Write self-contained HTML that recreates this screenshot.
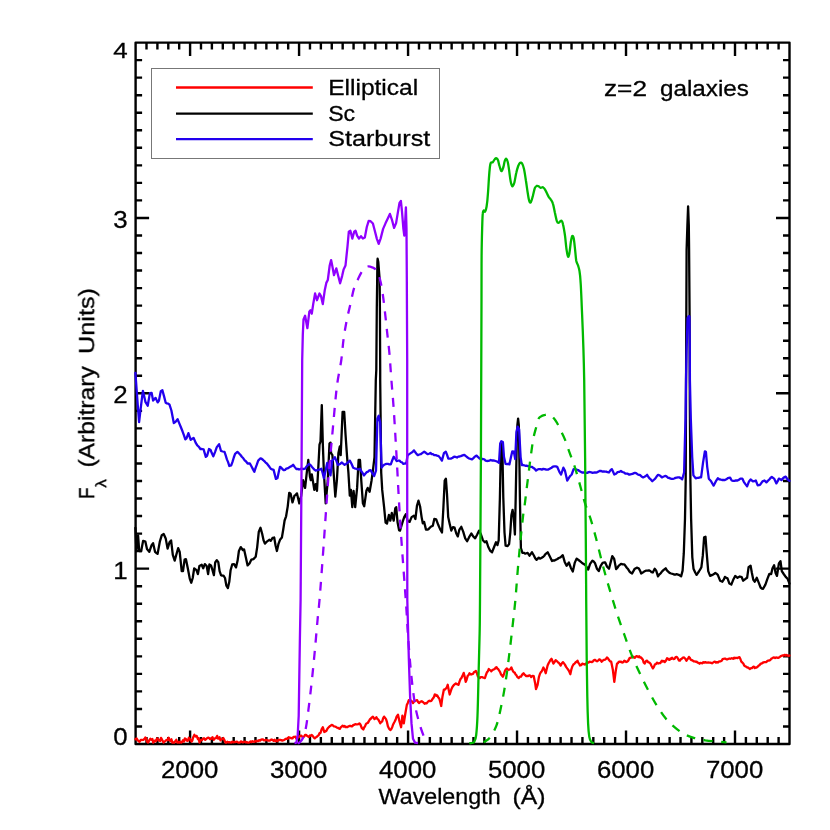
<!DOCTYPE html>
<html><head><meta charset="utf-8"><title>z=2 galaxies</title>
<style>
html,body{margin:0;padding:0;background:#fff;}
svg{display:block;}
text{font-family:"Liberation Sans",sans-serif;fill:#000;stroke:#000;stroke-width:0.3px;}
</style></head><body>
<svg width="830" height="830" viewBox="0 0 830 830">
<rect width="830" height="830" fill="#fff"/>
<!-- axes -->
<rect x="135.6" y="42.6" width="653.9" height="701.4" fill="none" stroke="#000" stroke-width="2.4" stroke-linejoin="round"/>
<path d="M146.50,744.0 v-7.0 M146.50,42.6 v7.0 M157.40,744.0 v-7.0 M157.40,42.6 v7.0 M168.29,744.0 v-7.0 M168.29,42.6 v7.0 M179.19,744.0 v-7.0 M179.19,42.6 v7.0 M190.09,744.0 v-13.5 M190.09,42.6 v13.5 M200.99,744.0 v-7.0 M200.99,42.6 v7.0 M211.89,744.0 v-7.0 M211.89,42.6 v7.0 M222.79,744.0 v-7.0 M222.79,42.6 v7.0 M233.69,744.0 v-7.0 M233.69,42.6 v7.0 M244.58,744.0 v-7.0 M244.58,42.6 v7.0 M255.48,744.0 v-7.0 M255.48,42.6 v7.0 M266.38,744.0 v-7.0 M266.38,42.6 v7.0 M277.28,744.0 v-7.0 M277.28,42.6 v7.0 M288.18,744.0 v-7.0 M288.18,42.6 v7.0 M299.07,744.0 v-13.5 M299.07,42.6 v13.5 M309.97,744.0 v-7.0 M309.97,42.6 v7.0 M320.87,744.0 v-7.0 M320.87,42.6 v7.0 M331.77,744.0 v-7.0 M331.77,42.6 v7.0 M342.67,744.0 v-7.0 M342.67,42.6 v7.0 M353.57,744.0 v-7.0 M353.57,42.6 v7.0 M364.46,744.0 v-7.0 M364.46,42.6 v7.0 M375.36,744.0 v-7.0 M375.36,42.6 v7.0 M386.26,744.0 v-7.0 M386.26,42.6 v7.0 M397.16,744.0 v-7.0 M397.16,42.6 v7.0 M408.06,744.0 v-13.5 M408.06,42.6 v13.5 M418.96,744.0 v-7.0 M418.96,42.6 v7.0 M429.86,744.0 v-7.0 M429.86,42.6 v7.0 M440.75,744.0 v-7.0 M440.75,42.6 v7.0 M451.65,744.0 v-7.0 M451.65,42.6 v7.0 M462.55,744.0 v-7.0 M462.55,42.6 v7.0 M473.45,744.0 v-7.0 M473.45,42.6 v7.0 M484.35,744.0 v-7.0 M484.35,42.6 v7.0 M495.25,744.0 v-7.0 M495.25,42.6 v7.0 M506.14,744.0 v-7.0 M506.14,42.6 v7.0 M517.04,744.0 v-13.5 M517.04,42.6 v13.5 M527.94,744.0 v-7.0 M527.94,42.6 v7.0 M538.84,744.0 v-7.0 M538.84,42.6 v7.0 M549.74,744.0 v-7.0 M549.74,42.6 v7.0 M560.63,744.0 v-7.0 M560.63,42.6 v7.0 M571.53,744.0 v-7.0 M571.53,42.6 v7.0 M582.43,744.0 v-7.0 M582.43,42.6 v7.0 M593.33,744.0 v-7.0 M593.33,42.6 v7.0 M604.23,744.0 v-7.0 M604.23,42.6 v7.0 M615.13,744.0 v-7.0 M615.13,42.6 v7.0 M626.02,744.0 v-13.5 M626.02,42.6 v13.5 M636.92,744.0 v-7.0 M636.92,42.6 v7.0 M647.82,744.0 v-7.0 M647.82,42.6 v7.0 M658.72,744.0 v-7.0 M658.72,42.6 v7.0 M669.62,744.0 v-7.0 M669.62,42.6 v7.0 M680.52,744.0 v-7.0 M680.52,42.6 v7.0 M691.41,744.0 v-7.0 M691.41,42.6 v7.0 M702.31,744.0 v-7.0 M702.31,42.6 v7.0 M713.21,744.0 v-7.0 M713.21,42.6 v7.0 M724.11,744.0 v-7.0 M724.11,42.6 v7.0 M735.01,744.0 v-13.5 M735.01,42.6 v13.5 M745.91,744.0 v-7.0 M745.91,42.6 v7.0 M756.80,744.0 v-7.0 M756.80,42.6 v7.0 M767.70,744.0 v-7.0 M767.70,42.6 v7.0 M778.60,744.0 v-7.0 M778.60,42.6 v7.0 M135.6,726.47 h6.5 M789.5,726.47 h-6.5 M135.6,708.93 h6.5 M789.5,708.93 h-6.5 M135.6,691.39 h6.5 M789.5,691.39 h-6.5 M135.6,673.86 h6.5 M789.5,673.86 h-6.5 M135.6,656.33 h6.5 M789.5,656.33 h-6.5 M135.6,638.79 h6.5 M789.5,638.79 h-6.5 M135.6,621.25 h6.5 M789.5,621.25 h-6.5 M135.6,603.72 h6.5 M789.5,603.72 h-6.5 M135.6,586.18 h6.5 M789.5,586.18 h-6.5 M135.6,568.65 h13.5 M789.5,568.65 h-13.5 M135.6,551.12 h6.5 M789.5,551.12 h-6.5 M135.6,533.58 h6.5 M789.5,533.58 h-6.5 M135.6,516.04 h6.5 M789.5,516.04 h-6.5 M135.6,498.51 h6.5 M789.5,498.51 h-6.5 M135.6,480.98 h6.5 M789.5,480.98 h-6.5 M135.6,463.44 h6.5 M789.5,463.44 h-6.5 M135.6,445.91 h6.5 M789.5,445.91 h-6.5 M135.6,428.37 h6.5 M789.5,428.37 h-6.5 M135.6,410.84 h6.5 M789.5,410.84 h-6.5 M135.6,393.30 h13.5 M789.5,393.30 h-13.5 M135.6,375.76 h6.5 M789.5,375.76 h-6.5 M135.6,358.23 h6.5 M789.5,358.23 h-6.5 M135.6,340.70 h6.5 M789.5,340.70 h-6.5 M135.6,323.16 h6.5 M789.5,323.16 h-6.5 M135.6,305.62 h6.5 M789.5,305.62 h-6.5 M135.6,288.09 h6.5 M789.5,288.09 h-6.5 M135.6,270.56 h6.5 M789.5,270.56 h-6.5 M135.6,253.02 h6.5 M789.5,253.02 h-6.5 M135.6,235.49 h6.5 M789.5,235.49 h-6.5 M135.6,217.95 h13.5 M789.5,217.95 h-13.5 M135.6,200.41 h6.5 M789.5,200.41 h-6.5 M135.6,182.88 h6.5 M789.5,182.88 h-6.5 M135.6,165.35 h6.5 M789.5,165.35 h-6.5 M135.6,147.81 h6.5 M789.5,147.81 h-6.5 M135.6,130.27 h6.5 M789.5,130.27 h-6.5 M135.6,112.74 h6.5 M789.5,112.74 h-6.5 M135.6,95.21 h6.5 M789.5,95.21 h-6.5 M135.6,77.67 h6.5 M789.5,77.67 h-6.5 M135.6,60.13 h6.5 M789.5,60.13 h-6.5" fill="none" stroke="#000" stroke-width="2.4"/>
<!-- legend -->
<rect x="151.5" y="68.5" width="288" height="90" fill="#fff" stroke="#777" stroke-width="1"/>
<path d="M176,87.5 H312.8" stroke="#f00" stroke-width="2.3"/>
<path d="M176,113.6 H312.8" stroke="#000" stroke-width="2.3"/>
<path d="M176,139.2 H312.8" stroke="#2200ee" stroke-width="2.3"/>
<g fill="none" stroke-width="2.3" stroke-linejoin="round" stroke-linecap="round">
<path stroke="#f00" d="M135.4,739.2 L136.6,738.4 L137.7,740.3 L138.7,741.2 L139.6,741.7 L140.8,740.0 L141.9,739.8 L142.8,740.0 L143.6,739.8 L144.5,738.8 L145.3,737.5 L146.1,738.2 L147.0,741.7 L148.1,742.6 L149.3,740.3 L150.4,738.8 L151.6,739.8 L152.4,739.0 L153.3,742.6 L154.1,741.7 L155.1,740.4 L156.0,741.3 L157.0,738.4 L158.1,739.4 L159.3,740.7 L160.1,740.9 L161.0,737.9 L161.8,739.2 L162.6,740.7 L163.5,742.6 L164.3,741.7 L165.5,740.8 L166.6,739.8 L167.6,740.0 L168.6,737.8 L169.5,740.4 L170.5,741.1 L171.4,739.2 L172.4,742.6 L173.4,742.3 L174.3,742.6 L175.3,741.2 L176.3,739.8 L177.2,742.3 L178.0,742.6 L178.9,741.8 L179.7,742.6 L180.5,741.7 L181.3,742.6 L182.2,741.9 L183.0,740.3 L184.0,741.6 L184.9,738.4 L185.9,739.0 L186.9,740.7 L187.8,740.8 L188.8,737.8 L189.8,738.8 L190.7,740.3 L191.6,741.6 L192.4,740.3 L193.2,737.2 L194.4,734.8 L195.5,736.5 L196.7,735.9 L197.9,739.2 L198.7,738.2 L199.5,742.6 L200.4,740.7 L201.2,739.7 L202.0,740.1 L202.9,738.8 L204.0,738.2 L205.2,739.8 L206.3,738.8 L207.5,737.8 L208.3,737.7 L209.2,738.0 L210.0,739.2 L210.8,739.0 L211.7,738.3 L212.5,737.2 L213.7,739.9 L214.8,738.4 L216.0,738.1 L217.1,735.9 L218.0,738.6 L218.8,738.7 L219.6,737.2 L220.5,740.4 L221.3,739.4 L222.1,739.2 L223.3,738.0 L224.5,740.3 L225.4,742.6 L226.4,742.6 L227.3,741.7 L228.3,742.4 L229.3,742.2 L230.2,742.3 L231.2,742.5 L232.2,741.7 L233.1,742.4 L234.1,741.9 L235.1,742.1 L236.0,741.8 L237.0,741.6 L237.9,742.3 L238.9,742.6 L239.9,742.6 L240.8,741.4 L241.8,741.9 L242.8,742.4 L243.7,741.9 L244.7,741.7 L245.7,742.3 L246.6,742.0 L247.6,742.6 L248.6,742.6 L249.5,742.3 L250.5,741.5 L251.4,742.1 L252.4,741.2 L253.4,741.7 L254.3,741.8 L255.3,741.0 L256.3,741.5 L257.2,740.7 L258.2,741.1 L259.2,740.2 L260.1,740.6 L261.1,739.6 L262.0,739.5 L263.0,739.4 L264.0,740.3 L264.9,740.3 L265.9,739.8 L266.9,740.1 L267.8,740.5 L268.8,740.7 L269.8,740.7 L270.7,739.9 L271.7,739.5 L272.6,740.0 L273.6,740.9 L274.6,739.7 L275.5,741.3 L276.5,740.3 L277.5,741.2 L278.4,739.9 L279.4,740.0 L280.4,740.0 L281.2,740.1 L282.0,740.6 L282.9,740.3 L283.9,740.1 L284.8,739.5 L285.8,738.8 L286.7,738.6 L287.7,738.8 L288.7,737.2 L289.6,737.7 L290.6,737.9 L291.6,738.4 L292.5,738.4 L293.5,736.8 L294.5,736.9 L295.4,736.7 L296.4,738.7 L297.4,737.8 L298.3,737.2 L299.3,736.7 L300.2,735.9 L301.2,735.6 L302.2,736.7 L303.1,737.2 L304.1,736.6 L305.1,734.9 L306.0,734.9 L307.0,735.8 L308.0,736.4 L308.9,736.9 L309.9,735.5 L310.8,735.8 L311.8,734.9 L312.8,736.0 L313.7,737.5 L314.7,738.4 L315.7,737.3 L316.6,737.1 L317.6,735.9 L318.6,735.3 L319.5,733.2 L320.5,733.0 L321.6,729.4 L322.8,727.2 L324.3,732.0 L325.3,731.4 L326.3,730.9 L327.2,729.2 L328.1,727.8 L328.9,727.2 L329.7,726.3 L330.7,725.7 L331.7,724.9 L332.8,725.3 L334.0,726.3 L334.9,726.5 L335.9,726.9 L336.9,727.6 L337.8,727.8 L338.8,728.5 L339.8,728.8 L340.7,727.4 L341.7,726.5 L342.6,725.7 L343.6,726.6 L344.6,726.0 L345.5,727.2 L346.5,727.0 L347.5,727.0 L348.4,726.3 L349.4,726.0 L350.4,725.8 L351.3,726.3 L352.3,726.3 L353.3,725.0 L354.2,724.9 L355.2,724.2 L356.1,724.4 L357.1,724.3 L358.3,724.2 L359.4,723.4 L360.3,724.3 L361.1,726.3 L361.9,728.2 L363.3,729.5 L364.1,727.5 L364.9,726.6 L365.8,724.3 L366.7,723.3 L367.7,723.0 L368.7,721.5 L369.8,719.5 L371.0,718.5 L372.0,717.3 L372.9,716.6 L374.5,719.1 L375.4,718.4 L376.4,717.2 L377.4,719.0 L378.3,719.5 L379.3,721.4 L380.2,723.4 L381.2,722.0 L382.2,721.5 L383.1,718.4 L384.1,716.6 L385.1,717.9 L386.0,719.1 L387.0,722.2 L387.9,726.3 L389.1,728.7 L390.3,730.1 L391.2,729.2 L392.2,727.2 L393.0,724.8 L393.9,723.0 L394.7,721.5 L395.7,719.5 L396.6,716.6 L398.0,714.7 L399.5,721.5 L401.1,727.2 L402.4,715.7 L403.8,723.4 L405.3,713.7 L406.8,705.1 L407.8,702.9 L408.8,700.2 L409.9,700.9 L411.1,700.6 L412.0,701.6 L413.0,703.1 L414.0,701.6 L414.9,701.2 L416.1,700.4 L417.2,700.2 L418.2,702.2 L419.2,703.1 L420.0,702.1 L420.9,701.6 L421.7,701.2 L422.7,701.9 L423.6,702.7 L424.6,703.7 L425.5,703.1 L426.5,703.4 L427.5,702.2 L428.4,701.3 L429.4,700.7 L430.4,701.2 L431.3,700.9 L432.3,699.3 L433.1,698.3 L434.0,696.8 L434.8,694.5 L435.7,694.7 L436.5,695.8 L437.3,695.4 L438.3,697.5 L439.2,698.3 L440.2,701.7 L441.2,706.0 L442.5,696.4 L443.9,689.6 L444.8,689.5 L445.8,688.7 L446.8,687.3 L447.7,684.8 L448.7,689.9 L449.7,694.5 L450.6,691.6 L451.6,688.7 L452.4,687.0 L453.3,685.8 L454.1,684.8 L454.9,684.1 L455.8,683.5 L456.6,683.9 L457.6,684.5 L458.5,684.8 L459.5,681.6 L460.5,679.0 L461.4,678.1 L462.4,676.1 L463.7,672.9 L464.7,676.7 L465.7,681.9 L466.6,679.7 L467.6,676.1 L468.6,675.0 L469.5,673.2 L470.4,674.3 L471.2,674.5 L472.0,674.2 L473.0,673.9 L473.9,672.3 L474.9,671.7 L475.9,670.9 L476.8,672.8 L477.8,676.1 L478.8,677.5 L479.7,678.1 L480.6,677.2 L481.5,677.1 L482.4,677.1 L483.3,677.7 L484.1,677.8 L484.9,678.1 L485.9,675.0 L486.9,672.3 L487.8,671.4 L488.8,669.0 L489.6,670.0 L490.5,670.3 L491.3,671.3 L492.5,670.0 L493.6,669.4 L494.6,669.2 L495.5,667.8 L496.5,667.1 L497.3,668.6 L498.2,669.0 L499.0,670.4 L500.0,671.8 L500.9,674.2 L501.9,675.5 L502.9,676.7 L503.8,674.5 L504.8,671.3 L505.8,669.4 L506.7,668.4 L507.9,669.6 L509.0,669.8 L510.2,669.3 L511.4,667.5 L512.2,669.6 L513.0,671.2 L513.9,672.3 L514.7,672.5 L515.5,674.4 L516.4,675.2 L517.5,677.2 L518.7,678.1 L519.8,676.7 L521.0,676.7 L521.8,675.2 L522.7,674.0 L523.5,673.2 L524.3,674.3 L525.2,675.1 L526.0,676.1 L526.9,675.9 L527.8,676.2 L528.7,675.6 L529.5,675.3 L530.4,675.9 L531.2,677.1 L532.0,676.2 L532.9,675.9 L533.7,676.1 L535.1,682.9 L536.0,689.1 L537.6,684.8 L538.9,677.1 L539.9,674.0 L540.8,672.3 L541.7,671.4 L542.5,669.6 L543.4,667.5 L544.5,669.7 L545.7,673.2 L546.6,669.4 L547.6,665.5 L548.6,663.3 L549.5,661.7 L550.5,659.9 L551.5,658.8 L552.4,661.0 L553.4,663.6 L554.5,662.1 L555.7,660.1 L556.5,661.1 L557.4,661.6 L558.2,662.6 L559.0,663.1 L559.9,664.3 L560.7,665.5 L561.9,663.2 L563.0,662.1 L564.0,663.4 L564.9,664.6 L566.1,666.9 L567.2,668.4 L568.2,669.7 L569.2,671.3 L570.3,674.2 L571.3,669.7 L572.3,666.5 L573.4,664.5 L574.6,663.6 L575.5,662.4 L576.5,661.9 L577.5,660.7 L578.3,662.8 L579.2,663.7 L580.0,665.5 L581.2,665.1 L582.3,663.6 L583.1,664.1 L584.0,664.1 L584.8,664.6 L585.7,663.7 L586.5,663.3 L587.3,662.6 L588.5,662.5 L589.6,661.7 L590.8,661.8 L592.0,662.1 L592.8,661.6 L593.6,660.5 L594.5,659.8 L595.3,659.9 L596.1,660.8 L597.0,661.3 L598.1,660.6 L599.3,659.4 L600.4,659.8 L601.6,661.7 L602.4,660.9 L603.3,660.3 L604.1,659.8 L605.1,659.6 L606.0,658.9 L607.0,657.5 L608.0,658.4 L608.9,659.8 L610.1,661.4 L611.2,661.7 L612.8,669.4 L614.3,681.9 L615.7,671.3 L617.0,663.6 L617.8,663.4 L618.7,661.9 L619.5,661.7 L620.4,662.0 L621.2,661.7 L622.0,662.6 L623.2,662.2 L624.3,660.7 L625.3,661.3 L626.3,662.0 L627.2,661.7 L628.1,660.9 L628.9,659.4 L629.7,657.8 L630.6,657.9 L631.5,657.3 L632.4,656.9 L633.3,656.6 L634.1,657.7 L634.9,657.8 L635.8,656.5 L636.6,656.2 L637.5,656.3 L638.3,657.1 L639.2,656.3 L640.1,657.5 L641.1,657.5 L642.1,658.8 L642.9,659.8 L643.7,662.6 L644.6,663.6 L645.4,662.1 L646.2,660.9 L647.1,660.7 L648.2,662.2 L649.4,662.6 L650.4,663.5 L651.3,665.5 L652.9,668.4 L653.8,667.1 L654.8,664.6 L656.0,663.9 L657.1,662.6 L658.3,663.5 L659.4,663.2 L660.3,663.1 L661.1,661.7 L661.9,660.7 L662.9,661.6 L663.9,660.9 L664.8,662.1 L666.0,660.6 L667.1,658.2 L668.0,658.8 L668.8,659.6 L669.6,659.8 L670.5,658.5 L671.3,658.9 L672.1,657.8 L673.3,659.0 L674.5,658.8 L675.6,657.1 L676.8,656.9 L677.6,657.9 L678.4,659.5 L679.3,660.7 L680.1,660.6 L680.9,659.0 L681.8,658.8 L682.9,657.6 L684.1,657.5 L685.3,658.7 L686.4,660.7 L687.2,659.6 L688.1,658.6 L688.9,656.9 L689.9,658.1 L690.8,659.8 L691.8,660.1 L692.8,660.6 L693.7,661.3 L694.7,661.4 L695.7,661.8 L696.6,661.6 L697.6,662.6 L698.6,662.8 L699.5,663.7 L700.5,662.9 L701.5,663.2 L702.4,663.3 L703.4,662.1 L704.3,662.7 L705.3,662.1 L706.3,662.6 L707.2,662.6 L708.2,662.5 L709.2,662.6 L710.1,662.6 L711.1,662.9 L712.0,663.3 L713.0,662.6 L714.0,661.9 L714.9,661.7 L715.9,662.6 L716.9,662.1 L717.8,662.5 L718.8,661.7 L719.8,661.4 L720.7,661.3 L721.7,660.8 L722.6,659.1 L723.6,658.8 L724.6,658.6 L725.5,658.7 L726.5,659.4 L727.5,659.4 L728.4,658.8 L729.4,658.5 L730.4,658.8 L731.7,658.2 L732.5,658.5 L733.3,658.8 L734.1,657.7 L734.9,658.3 L735.7,657.8 L736.5,657.8 L737.5,658.1 L738.4,657.5 L739.4,657.1 L740.4,659.0 L741.3,661.7 L742.3,662.5 L743.3,663.5 L744.2,665.5 L745.2,666.2 L746.1,666.6 L747.1,667.5 L748.1,667.5 L749.0,668.3 L750.0,669.0 L751.0,668.1 L751.9,668.2 L752.9,667.1 L753.9,666.6 L754.8,668.1 L755.8,667.3 L756.8,667.5 L757.7,666.7 L758.7,665.5 L759.6,665.1 L760.6,663.6 L761.6,663.7 L762.5,662.9 L763.5,662.4 L764.5,662.1 L765.4,662.1 L766.4,662.0 L767.3,660.9 L768.3,660.7 L769.3,660.5 L770.2,660.2 L771.2,658.8 L772.2,658.2 L773.1,657.6 L774.1,657.4 L775.1,658.0 L776.0,657.5 L777.0,657.6 L778.0,657.9 L778.9,657.6 L779.9,656.9 L780.8,656.1 L781.8,655.7 L782.8,655.5 L783.7,655.5 L784.7,654.8 L785.7,655.5 L786.6,654.9 L787.6,655.7 L788.6,656.0 L789.5,655.5"/>
<path stroke="#000" d="M135.4,527.8 L136.4,551.0 L138.1,535.5 L139.2,551.0 L141.2,551.0 L143.1,540.9 L145.4,541.7 L147.0,549.0 L149.3,551.9 L151.6,545.2 L153.1,543.2 L155.1,551.9 L156.3,553.0 L157.6,553.9 L159.9,541.3 L161.8,535.2 L163.7,534.0 L165.7,538.4 L167.6,548.6 L169.5,542.3 L171.1,540.4 L172.8,554.8 L174.7,560.6 L176.3,554.8 L178.2,548.1 L179.7,551.9 L181.7,571.2 L183.0,571.2 L184.6,559.6 L185.9,559.1 L187.8,568.3 L189.8,578.9 L191.3,582.8 L192.7,578.0 L194.2,568.3 L196.5,570.2 L197.9,574.1 L199.4,566.0 L201.7,564.8 L203.2,568.3 L204.8,564.1 L206.7,566.0 L208.1,574.1 L209.4,564.5 L211.0,565.4 L212.5,570.2 L213.9,575.1 L215.2,562.5 L216.8,560.2 L218.3,562.1 L219.6,571.2 L221.0,575.1 L222.2,575.6 L223.5,575.6 L225.0,578.0 L226.4,585.7 L227.9,588.0 L229.3,581.8 L230.6,570.2 L232.2,564.5 L234.1,564.1 L236.0,567.4 L237.6,560.6 L238.9,551.0 L240.8,547.1 L242.8,550.0 L244.1,549.4 L245.7,556.8 L247.6,565.4 L249.5,563.5 L251.4,559.6 L253.4,559.1 L255.7,556.8 L257.2,547.1 L258.8,531.7 L260.5,527.8 L262.1,533.6 L263.6,540.4 L264.9,543.6 L267.2,541.3 L269.2,539.8 L270.7,540.9 L272.6,537.9 L274.2,537.5 L275.5,545.2 L276.9,551.0 L278.4,544.2 L280.0,539.8 L281.9,537.5 L283.2,529.8 L284.6,520.5 L286.1,516.3 L287.7,506.6 L289.2,492.8 L290.6,493.7 L292.5,502.4 L294.5,495.7 L295.7,494.8 L297.0,493.4 L299.3,503.4 L301.2,495.7 L303.1,480.2 L305.1,487.9 L307.0,470.6 L308.3,460.0 L309.9,476.4 L310.8,480.2 L311.8,474.5 L313.1,482.2 L314.3,489.9 L315.7,484.1 L317.0,490.8 L318.3,467.7 L319.5,444.6 L320.5,441.7 L321.8,405.1 L322.8,443.6 L323.9,472.5 L325.7,503.4 L327.8,480.2 L329.5,443.6 L330.5,442.6 L331.1,453.2 L332.4,455.2 L333.6,472.5 L335.3,496.6 L336.9,480.2 L338.4,453.2 L339.8,446.5 L340.7,455.2 L342.6,411.8 L344.2,411.8 L345.5,434.0 L347.1,457.1 L348.4,472.5 L349.8,495.7 L350.9,489.9 L352.3,507.2 L353.6,490.8 L355.2,507.2 L357.1,487.9 L358.6,460.0 L360.0,460.0 L361.4,482.2 L362.9,503.4 L364.2,506.3 L366.4,490.8 L367.7,487.9 L369.6,491.8 L371.6,480.2 L372.9,470.6 L374.5,457.1 L375.8,380.0 L376.3,370.0 L376.8,308.0 L377.2,279.0 L377.4,262.0 L377.6,258.7 L378.3,262.0 L379.6,279.0 L379.9,308.0 L380.2,370.0 L380.2,380.0 L381.2,472.5 L382.2,489.9 L384.1,507.2 L385.6,522.6 L387.0,523.6 L388.9,514.9 L390.3,520.7 L391.8,513.0 L393.7,520.7 L395.3,508.2 L396.2,507.2 L397.6,522.6 L399.1,530.4 L400.0,530.6 L402.3,522.9 L404.2,517.1 L405.8,514.2 L407.7,521.0 L409.6,521.9 L411.6,517.1 L413.9,515.6 L415.4,519.0 L417.0,505.5 L418.5,500.7 L420.1,506.5 L421.6,517.1 L422.8,523.3 L424.1,521.9 L426.0,529.6 L427.3,529.7 L428.5,529.1 L430.8,526.8 L432.8,525.8 L434.3,519.0 L436.2,519.4 L438.2,524.8 L440.1,529.1 L442.0,532.5 L443.4,507.5 L444.7,480.5 L445.9,478.6 L447.0,494.0 L448.2,517.1 L449.7,523.9 L451.3,530.6 L453.0,527.1 L454.6,527.7 L456.3,533.5 L457.8,536.4 L459.4,529.6 L461.3,526.8 L463.2,531.6 L465.2,538.3 L467.1,541.2 L469.0,537.4 L471.3,533.5 L473.2,536.4 L475.2,538.3 L477.1,534.8 L479.0,530.6 L481.0,534.5 L482.9,540.2 L484.8,542.2 L486.4,541.2 L488.3,547.0 L490.2,550.8 L492.1,552.2 L494.1,547.0 L496.0,542.2 L497.4,545.1 L498.7,540.2 L499.9,497.8 L500.8,451.6 L501.6,442.9 L502.4,451.6 L503.3,497.8 L504.5,532.5 L505.6,545.6 L507.6,546.0 L509.1,544.1 L510.3,532.5 L511.4,515.2 L512.6,509.8 L513.7,517.1 L514.9,534.5 L515.7,497.8 L516.8,440.0 L517.4,425.0 L518.1,418.6 L518.8,425.0 L519.1,440.0 L519.9,497.8 L520.9,548.0 L522.4,552.8 L523.9,552.8 L525.3,553.7 L527.6,552.8 L529.5,555.7 L530.8,553.9 L532.0,552.2 L534.0,555.7 L535.2,558.2 L536.5,559.9 L538.8,557.6 L540.0,558.6 L541.4,558.0 L542.9,557.1 L544.1,556.0 L545.4,554.2 L547.7,552.3 L549.6,556.1 L552.0,561.0 L553.2,560.4 L554.5,560.6 L555.9,559.8 L557.4,559.0 L558.8,558.0 L560.2,557.5 L561.5,556.4 L562.8,555.2 L564.7,561.9 L566.6,565.8 L568.9,562.5 L570.8,567.7 L572.8,571.6 L574.7,562.9 L576.6,558.6 L578.5,560.0 L580.9,561.9 L582.1,563.0 L583.4,563.9 L584.6,564.4 L585.9,565.8 L588.2,569.6 L590.1,563.9 L592.4,560.6 L593.7,561.5 L594.9,562.9 L596.9,568.7 L598.8,571.0 L600.7,565.8 L602.6,562.9 L603.9,562.5 L605.2,562.5 L607.1,566.8 L609.0,568.7 L610.5,562.9 L612.3,556.1 L614.2,559.0 L616.1,569.1 L617.4,567.8 L618.6,565.8 L621.0,563.9 L622.7,564.4 L624.4,564.4 L626.8,567.7 L628.2,569.3 L629.6,571.6 L630.9,572.8 L632.1,573.5 L634.5,569.1 L636.8,567.7 L638.7,568.3 L640.0,570.6 L641.2,573.5 L642.7,572.6 L644.1,571.6 L645.8,570.7 L647.6,570.6 L648.9,570.3 L650.3,571.0 L651.5,572.1 L652.8,572.5 L654.7,568.7 L656.2,570.6 L658.0,576.4 L659.2,574.7 L660.5,573.5 L661.9,571.6 L663.4,570.2 L665.7,568.3 L666.9,570.4 L668.2,571.6 L669.6,572.9 L671.1,573.5 L672.5,573.8 L674.0,574.5 L675.2,574.7 L676.5,574.1 L678.8,574.8 L681.1,576.4 L682.6,570.6 L683.8,553.2 L685.0,518.5 L685.7,480.0 L686.0,400.0 L686.3,316.0 L686.6,250.0 L687.4,225.0 L688.1,206.4 L688.8,225.0 L689.1,250.0 L689.6,316.0 L689.8,400.0 L690.4,480.0 L691.1,518.5 L692.3,557.1 L693.5,568.7 L695.2,572.5 L696.6,574.9 L698.9,571.5 L700.2,569.4 L701.4,567.2 L702.8,555.7 L704.1,537.4 L705.5,536.8 L706.6,551.8 L708.2,571.1 L710.1,575.9 L712.4,574.9 L713.9,574.1 L715.3,573.0 L716.6,573.7 L717.8,574.9 L720.1,580.7 L722.4,581.7 L723.7,579.7 L724.9,576.9 L726.2,577.8 L727.5,578.4 L729.4,583.6 L731.3,584.6 L733.2,579.8 L735.2,575.9 L737.5,577.8 L739.8,576.5 L741.7,577.2 L743.2,580.7 L745.6,578.8 L747.1,577.8 L748.6,567.2 L750.6,565.7 L751.9,573.0 L753.3,579.8 L754.8,581.7 L756.8,577.8 L758.7,582.6 L760.6,587.5 L761.9,588.6 L763.1,588.8 L765.4,584.6 L767.4,578.8 L769.3,574.0 L771.2,574.0 L772.5,568.2 L774.1,565.3 L775.6,573.0 L777.0,575.9 L778.9,563.4 L780.5,561.1 L781.8,571.1 L783.7,574.0 L785.7,576.9 L787.6,578.8 L789.5,583.6"/>
<path stroke="#2200ee" d="M135.4,372.9 L136.6,389.3 L137.8,405.7 L139.1,422.1 L140.3,411.6 L141.6,401.2 L142.9,390.8 L144.2,396.3 L145.4,401.8 L147.7,405.7 L149.9,393.1 L151.6,392.8 L153.1,400.5 L154.4,399.1 L155.6,397.9 L157.6,402.4 L158.9,400.8 L160.8,391.2 L162.4,390.2 L164.0,396.1 L165.7,402.8 L166.9,403.4 L168.2,403.6 L169.5,404.7 L171.4,410.5 L173.8,423.0 L175.3,422.1 L177.6,419.2 L179.3,423.4 L181.1,427.8 L182.5,431.3 L183.9,435.2 L185.3,439.4 L186.5,438.4 L188.4,433.2 L190.7,439.8 L192.2,438.8 L193.6,437.9 L195.9,443.2 L197.4,445.5 L198.9,446.8 L200.4,449.0 L202.0,449.0 L203.6,449.4 L205.8,456.8 L207.1,455.8 L209.0,449.0 L210.6,450.0 L211.9,453.3 L213.3,456.4 L215.0,452.1 L216.8,447.1 L219.1,444.2 L221.0,451.0 L222.7,451.5 L224.5,451.9 L225.7,455.4 L226.9,459.4 L228.1,462.1 L229.3,466.0 L231.2,465.4 L232.5,461.9 L233.8,457.5 L235.1,453.9 L237.4,451.9 L238.8,453.2 L240.3,454.8 L241.8,456.8 L243.3,458.3 L244.7,460.4 L246.1,461.5 L247.6,463.5 L249.9,463.5 L251.4,466.3 L252.9,469.1 L254.3,471.8 L255.6,467.9 L256.9,464.4 L258.2,460.6 L260.5,458.3 L261.8,458.9 L263.1,460.0 L264.3,461.1 L265.6,462.6 L266.9,463.5 L268.2,465.2 L269.4,466.8 L270.7,468.7 L272.2,469.4 L273.6,469.9 L275.9,478.9 L277.5,477.9 L278.7,472.3 L280.0,466.8 L281.3,467.7 L282.6,469.3 L283.9,470.2 L285.1,469.8 L286.3,468.7 L287.5,468.4 L288.7,467.7 L290.2,466.8 L291.6,466.1 L293.1,464.8 L294.8,467.1 L296.4,469.1 L297.7,468.9 L299.0,469.5 L300.2,469.1 L301.4,468.6 L302.6,468.8 L303.9,469.0 L305.1,468.7 L306.3,466.8 L307.6,465.5 L308.9,463.9 L310.4,464.9 L311.8,466.8 L313.1,468.2 L314.4,469.6 L315.7,470.6 L317.1,470.2 L318.6,469.6 L320.0,469.5 L321.4,468.7 L322.7,473.3 L323.9,478.3 L325.6,470.8 L327.2,462.9 L328.9,469.2 L330.5,475.4 L332.1,461.0 L333.5,459.1 L334.9,457.1 L336.4,460.9 L337.8,464.8 L339.1,464.4 L340.4,463.7 L341.7,462.5 L343.1,463.6 L344.6,464.8 L346.0,464.0 L347.5,462.9 L349.8,460.6 L351.5,463.7 L353.2,467.7 L354.5,468.3 L355.8,468.7 L357.1,469.1 L358.6,469.3 L360.0,468.7 L361.3,471.2 L362.6,473.0 L363.9,475.4 L365.3,473.7 L366.8,472.1 L368.0,471.7 L369.3,470.4 L370.6,470.2 L372.3,473.1 L374.1,476.0 L376.0,470.6 L377.4,418.6 L378.7,415.7 L380.2,422.4 L381.6,467.7 L382.8,466.0 L384.1,464.8 L385.4,464.2 L386.7,463.8 L387.9,463.9 L389.4,464.4 L390.8,464.4 L392.3,460.2 L393.7,456.7 L395.2,458.6 L396.6,461.0 L398.1,460.7 L399.5,460.6 L400.8,462.0 L402.1,462.4 L403.4,463.9 L404.8,463.5 L406.3,463.3 L407.6,455.2 L409.3,454.1 L411.1,452.9 L412.5,452.0 L414.0,450.4 L415.3,452.3 L416.5,453.9 L417.8,455.2 L419.3,454.5 L420.7,454.2 L422.5,452.9 L424.2,451.7 L425.8,452.8 L427.5,454.2 L428.9,453.9 L430.4,452.9 L431.6,454.1 L432.9,454.1 L434.2,455.2 L435.7,455.1 L437.1,455.6 L438.7,456.1 L440.3,458.1 L441.9,460.6 L443.9,453.2 L445.8,451.7 L447.1,454.9 L448.3,458.6 L449.8,458.6 L451.2,458.6 L452.6,457.8 L454.1,456.7 L455.5,456.9 L457.0,457.5 L458.3,456.6 L459.6,456.5 L460.8,456.1 L462.6,455.4 L464.3,454.8 L465.9,456.2 L467.6,457.5 L469.1,458.5 L470.5,458.9 L472.0,459.4 L473.4,458.1 L474.7,456.7 L476.6,455.6 L478.2,457.2 L479.7,458.6 L481.4,459.0 L483.0,459.0 L484.3,459.3 L485.6,460.7 L486.9,461.0 L488.2,460.9 L489.4,460.7 L490.7,460.0 L491.9,460.5 L493.1,460.4 L494.3,460.6 L495.5,461.0 L497.3,461.6 L499.0,462.9 L500.2,443.6 L501.3,441.3 L502.9,442.1 L504.0,457.1 L505.6,463.9 L506.9,464.2 L508.1,463.8 L509.4,464.4 L511.0,457.1 L512.3,451.3 L513.9,451.7 L515.2,459.0 L516.4,432.1 L517.7,426.6 L519.1,429.2 L520.6,457.1 L521.8,465.2 L523.0,465.0 L524.2,465.3 L525.4,465.8 L526.6,465.7 L527.8,466.1 L529.0,466.1 L530.2,466.8 L531.7,466.8 L533.1,467.7 L534.6,468.8 L536.0,470.6 L537.5,469.5 L538.9,469.1 L540.4,469.2 L541.8,469.6 L543.3,468.9 L544.7,469.1 L546.3,469.7 L548.0,469.6 L549.7,468.8 L551.5,467.7 L552.9,466.7 L554.3,466.4 L555.8,466.3 L557.2,466.8 L559.5,472.1 L561.1,474.5 L563.4,467.7 L564.9,470.6 L567.2,480.6 L569.2,477.4 L570.4,475.8 L571.7,474.5 L573.6,469.1 L575.1,469.2 L576.5,469.6 L578.0,470.0 L579.4,471.0 L580.7,471.8 L582.0,472.5 L583.2,472.5 L584.5,472.6 L585.8,472.8 L587.1,472.9 L588.7,472.1 L590.0,472.0 L591.2,472.3 L592.5,472.9 L593.7,472.6 L594.9,472.3 L596.1,472.6 L597.4,472.1 L598.6,471.5 L599.9,470.9 L601.2,471.0 L602.5,471.6 L603.8,471.4 L605.1,471.6 L606.3,471.6 L607.6,472.2 L608.9,472.5 L610.4,470.4 L611.8,469.1 L613.1,471.8 L614.3,474.5 L616.0,473.7 L617.6,472.1 L619.2,471.9 L620.9,471.0 L622.3,472.0 L623.8,472.4 L625.3,473.5 L626.5,473.6 L627.7,473.7 L628.9,474.5 L630.1,474.5 L631.3,474.1 L632.5,473.9 L633.7,473.2 L634.9,472.9 L636.1,473.2 L637.4,474.2 L638.6,474.8 L639.8,474.8 L641.5,476.4 L643.2,477.4 L644.5,476.8 L645.8,476.0 L647.1,474.8 L648.4,477.0 L649.8,478.7 L651.0,479.7 L652.3,481.2 L653.7,480.0 L655.2,478.7 L656.6,476.6 L658.1,474.8 L659.4,475.3 L660.6,476.1 L661.9,477.4 L663.2,476.7 L664.5,476.2 L665.8,476.0 L667.0,476.8 L668.2,477.8 L669.4,478.0 L670.6,478.7 L671.8,478.9 L673.0,478.8 L674.2,478.5 L675.4,477.9 L676.7,477.6 L678.0,477.3 L679.3,477.4 L680.7,478.1 L682.2,479.3 L684.1,472.5 L685.5,418.6 L686.0,380.0 L686.6,350.0 L687.6,318.0 L688.6,316.2 L689.5,316.4 L689.8,350.0 L689.9,380.0 L690.8,418.6 L692.2,457.1 L693.4,475.4 L695.7,478.3 L697.1,477.8 L698.5,477.9 L699.8,477.4 L701.1,477.4 L703.0,462.9 L704.9,451.3 L705.9,451.7 L707.2,466.8 L708.8,478.7 L711.1,481.2 L712.3,483.5 L713.6,485.6 L715.9,481.2 L717.8,478.3 L719.2,479.3 L720.5,479.5 L722.0,480.0 L723.5,479.9 L724.9,480.1 L726.4,479.3 L727.8,478.2 L730.1,477.6 L731.7,480.5 L733.1,480.9 L734.6,480.9 L736.0,480.3 L737.5,480.5 L738.9,479.7 L740.4,478.6 L742.3,478.6 L743.7,481.6 L745.2,483.9 L747.1,486.3 L749.0,481.4 L750.6,479.5 L752.9,481.4 L754.3,481.2 L755.8,480.5 L757.7,485.3 L759.0,485.2 L760.2,484.7 L762.5,481.4 L764.5,480.5 L766.4,482.4 L767.8,480.9 L769.3,479.5 L770.5,478.0 L771.8,477.0 L774.1,478.6 L776.4,483.4 L777.7,481.2 L778.9,478.6 L780.2,479.2 L781.4,480.1 L783.7,477.6 L785.7,476.6 L787.6,479.5 L789.5,480.9"/>
</g>
<g fill="none" stroke-width="2.3" stroke-linejoin="round">
<path stroke="#9000ff" d="M294.5,743.2 L296.4,742.6 L297.7,735.0 L298.7,715.7 L299.3,677.0 L299.9,638.6 L300.6,600.0 L301.6,460.0 L302.2,360.0 L302.8,334.9 L303.5,319.5 L305.1,315.7 L307.4,328.2 L309.3,311.8 L310.5,310.3 L311.8,313.7 L313.2,304.1 L315.1,293.5 L317.0,300.2 L319.5,293.5 L321.1,296.4 L322.8,304.1 L324.7,290.6 L326.3,282.9 L327.8,280.0 L329.7,265.5 L331.1,260.1 L332.4,266.5 L334.0,275.2 L336.3,268.4 L337.8,274.2 L340.1,283.3 L342.1,276.1 L343.6,269.4 L345.5,265.5 L347.5,246.3 L348.8,231.8 L350.4,230.8 L352.3,238.6 L354.2,231.8 L355.6,230.8 L357.1,235.7 L359.0,238.6 L361.0,236.2 L362.9,238.6 L364.8,237.6 L366.8,227.0 L368.7,220.8 L370.6,221.2 L372.9,223.5 L374.8,230.8 L376.8,238.6 L378.7,243.9 L380.6,238.6 L383.1,228.9 L385.6,223.1 L387.9,218.3 L389.9,213.9 L391.8,219.3 L394.1,227.9 L396.1,223.1 L398.0,211.6 L399.5,202.9 L400.9,201.0 L402.0,211.6 L403.4,228.9 L404.3,235.7 L405.3,219.3 L405.9,207.3 L406.5,228.9 L406.8,277.1 L407.2,360.0 L407.2,460.0 L407.3,600.0 L408.8,657.8 L410.1,696.4 L411.5,723.4 L413.0,738.8 L415.0,742.6 L418.0,743.2"/>
<path stroke="#9000ff" stroke-dasharray="9 8.4" d="M297.5,743.2 C297.8,743.1 298.4,743.5 299.3,742.6 C300.2,741.7 302.0,740.4 303.1,737.8 C304.2,735.2 305.0,732.5 306.0,727.2 C307.0,721.9 307.9,713.7 308.9,706.0 C309.9,698.3 310.8,690.0 311.8,681.0 C312.8,672.0 313.7,662.3 314.7,652.0 C315.7,641.7 316.8,628.0 317.6,619.3 C318.4,610.6 318.4,613.2 319.5,600.0 C320.6,586.8 322.6,560.0 324.0,540.0 C325.4,520.0 326.9,497.2 328.2,480.2 C329.5,463.2 330.7,451.9 332.0,437.8 C333.3,423.7 334.9,405.0 335.9,395.4 C336.9,385.8 336.9,385.9 337.8,380.0 C338.7,374.1 340.3,366.9 341.3,360.0 C342.3,353.1 342.7,345.2 343.6,338.8 C344.5,332.4 345.4,327.2 346.5,321.4 C347.6,315.6 349.1,309.7 350.4,304.1 C351.7,298.5 352.8,292.2 354.2,287.7 C355.6,283.2 357.6,280.0 359.0,277.1 C360.4,274.2 361.4,272.2 362.9,270.4 C364.3,268.6 366.1,267.0 367.7,266.5 C369.3,266.0 371.1,266.9 372.5,267.5 C373.9,268.1 375.2,268.5 376.4,270.4 C377.6,272.3 378.9,275.6 379.9,279.0 C380.9,282.4 381.4,285.8 382.2,290.6 C383.0,295.4 383.7,301.2 384.5,308.0 C385.3,314.8 386.2,323.4 387.0,331.1 C387.8,338.8 388.8,346.1 389.5,354.2 C390.2,362.3 390.7,370.9 391.4,380.0 C392.1,389.1 392.8,396.0 393.7,408.9 C394.6,421.8 395.7,441.4 396.6,457.1 C397.5,472.9 398.3,489.6 399.1,503.4 C399.9,517.2 400.2,522.6 401.4,540.0 C402.6,557.4 405.2,591.3 406.3,607.7 C407.4,624.1 407.4,627.7 408.2,638.6 C409.0,649.5 410.0,662.4 411.1,673.3 C412.2,684.2 413.6,696.1 414.9,704.1 C416.2,712.1 417.4,716.1 418.8,721.4 C420.2,726.7 422.4,732.8 423.6,735.9 C424.8,739.0 425.6,739.3 426.0,740.0"/>
<path stroke="#00b900" d="M469.3,743.3 C469.7,743.2 470.9,743.3 471.7,743.0 C472.5,742.7 473.6,743.0 474.3,741.7 C475.1,740.4 475.7,739.3 476.2,735.0 C476.7,730.7 477.1,725.4 477.5,715.7 C477.9,706.0 478.2,689.9 478.5,677.0 C478.8,664.1 479.2,651.4 479.5,638.6 C479.8,625.8 479.8,629.8 480.0,600.0 C480.2,570.2 480.6,510.0 480.9,460.0 C481.1,410.0 481.4,334.1 481.5,300.0 C481.6,265.9 481.5,267.9 481.6,255.7 C481.7,243.5 482.0,233.8 482.2,226.8 C482.4,219.7 482.5,216.0 482.8,213.2 C483.0,210.5 483.3,210.6 483.7,210.4 C484.1,210.1 484.6,212.4 485.1,211.7 C485.5,211.1 486.1,209.5 486.6,206.5 C487.1,203.6 487.6,198.6 487.9,194.0 C488.3,189.3 488.6,183.0 488.9,178.6 C489.2,174.1 489.6,169.6 489.9,167.0 C490.2,164.4 490.4,163.6 490.8,162.8 C491.3,161.9 492.1,162.7 492.8,162.2 C493.4,161.6 494.1,159.9 494.7,159.3 C495.3,158.6 496.1,158.2 496.6,158.3 C497.2,158.5 497.5,159.0 498.0,160.2 C498.5,161.5 498.9,164.2 499.5,166.0 C500.1,167.9 500.8,171.1 501.4,171.2 C502.1,171.4 502.8,168.7 503.4,167.0 C503.9,165.3 504.2,162.6 504.7,161.2 C505.2,159.8 505.8,158.5 506.3,158.7 C506.8,158.9 507.3,160.1 507.8,162.2 C508.3,164.2 508.7,167.6 509.2,170.8 C509.6,174.1 510.2,178.9 510.7,181.4 C511.2,184.0 511.8,186.1 512.4,186.3 C513.0,186.4 513.7,184.7 514.4,182.4 C515.0,180.2 515.6,175.5 516.3,172.8 C516.9,170.0 517.6,167.7 518.2,166.0 C518.9,164.4 519.5,163.2 520.1,162.8 C520.8,162.3 521.4,162.5 522.1,163.5 C522.7,164.5 523.4,166.1 524.0,168.9 C524.6,171.7 525.3,176.3 525.9,180.5 C526.6,184.7 527.3,190.5 527.9,194.0 C528.4,197.4 528.9,200.0 529.4,201.3 C529.9,202.6 530.4,203.0 530.9,202.1 C531.5,201.2 532.2,198.2 532.9,195.9 C533.5,193.6 534.2,189.9 534.8,188.2 C535.4,186.5 536.1,186.2 536.7,185.9 C537.4,185.6 538.0,185.9 538.6,186.3 C539.3,186.6 539.9,187.7 540.6,187.8 C541.3,188.0 542.2,187.0 542.9,187.2 C543.6,187.5 544.2,188.2 544.8,189.2 C545.5,190.1 546.1,191.7 546.8,193.0 C547.4,194.3 548.0,195.7 548.7,196.9 C549.4,198.0 550.3,198.6 551.0,199.8 C551.7,200.9 552.3,201.5 552.9,203.6 C553.6,205.7 554.2,209.4 554.8,212.3 C555.5,215.2 556.2,219.2 556.8,221.0 C557.3,222.7 557.7,222.8 558.3,222.9 C558.9,223.0 559.7,221.7 560.2,221.3 C560.8,221.0 561.3,220.4 561.8,221.0 C562.3,221.5 562.6,222.2 563.1,224.8 C563.7,227.4 564.5,232.2 565.1,236.4 C565.6,240.6 566.1,246.5 566.6,249.9 C567.1,253.3 567.5,256.0 568.0,256.6 C568.4,257.3 568.8,256.1 569.3,253.7 C569.8,251.3 570.4,245.1 570.8,242.2 C571.3,239.2 571.7,236.6 572.2,236.0 C572.7,235.4 573.2,236.0 573.7,238.3 C574.2,240.6 574.7,246.2 575.1,249.9 C575.5,253.6 575.8,257.9 576.2,260.5 C576.7,263.1 577.4,263.5 578.0,265.3 C578.5,267.1 579.1,268.5 579.5,271.1 C579.9,273.6 580.2,275.9 580.5,280.7 C580.8,285.5 580.8,283.5 581.5,300.0 C582.1,316.5 583.5,340.0 584.2,380.0 C584.9,420.0 585.5,503.3 585.8,540.0 C586.1,576.7 586.1,580.4 586.2,600.0 C586.4,619.6 586.5,641.7 586.7,657.8 C586.9,673.9 587.1,685.5 587.3,696.4 C587.5,707.3 587.8,716.6 588.1,723.4 C588.4,730.1 588.8,733.8 589.3,736.9 C589.8,740.0 590.4,740.7 591.2,741.7 C592.0,742.8 593.5,743.0 594.0,743.2"/>
<path stroke="#00b900" stroke-dasharray="9 8.5" stroke-dashoffset="1.2" d="M483.6,742.3 C484.7,741.4 488.1,740.0 490.2,737.2 C492.3,734.4 494.8,729.8 496.5,725.3 C498.2,720.8 499.1,715.7 500.4,709.9 C501.7,704.1 503.1,697.0 504.2,690.6 C505.3,684.2 506.1,678.4 507.1,671.3 C508.1,664.2 509.0,656.2 510.0,648.2 C511.0,640.2 512.0,631.1 512.9,623.1 C513.8,615.1 514.5,609.3 515.4,600.0 C516.2,590.7 517.1,577.2 518.0,567.2 C518.9,557.2 519.6,549.2 520.5,540.2 C521.4,531.2 522.7,519.0 523.4,513.3 C524.1,507.5 524.0,509.9 524.6,505.7 C525.2,501.5 526.0,494.1 526.7,488.3 C527.4,482.5 528.2,476.8 528.9,471.0 C529.6,465.2 530.3,459.2 531.1,453.6 C531.9,448.1 532.6,442.3 533.5,437.7 C534.4,433.1 535.7,429.3 536.5,426.1 C537.3,422.9 537.7,420.4 538.5,418.7 C539.3,417.0 540.2,416.8 541.3,416.2 C542.3,415.6 543.7,415.3 544.8,415.0 C545.9,414.7 546.9,414.5 548.0,414.6 C549.1,414.7 549.9,414.5 551.3,415.7 C552.7,416.9 554.8,419.3 556.4,421.8 C558.0,424.3 559.2,427.5 560.7,430.5 C562.2,433.5 563.7,436.3 565.1,439.9 C566.5,443.5 568.0,448.2 569.4,452.2 C570.8,456.2 572.2,459.4 573.7,463.7 C575.2,468.0 576.8,473.6 578.1,478.2 C579.4,482.8 580.5,486.9 581.7,491.2 C582.9,495.5 583.8,499.6 585.3,504.2 C586.8,508.8 588.7,513.0 590.5,518.6 C592.3,524.2 594.0,530.7 595.9,537.8 C597.8,544.9 599.8,553.6 601.7,561.0 C603.6,568.4 605.6,575.7 607.5,582.2 C609.4,588.7 611.1,594.5 612.8,600.0 C614.5,605.5 615.7,609.6 617.6,615.4 C619.5,621.2 621.9,628.0 624.3,634.7 C626.7,641.5 629.4,649.5 632.0,655.9 C634.6,662.3 637.1,667.5 639.8,673.3 C642.5,679.1 645.5,685.1 648.4,690.6 C651.3,696.1 654.2,701.3 657.1,706.0 C660.0,710.7 662.9,715.1 665.8,718.6 C668.7,722.1 671.5,724.6 674.5,727.2 C677.5,729.8 680.9,732.2 684.1,734.0 C687.3,735.8 690.2,736.8 693.7,737.8 C697.2,738.8 701.1,739.6 705.3,740.3 C709.5,740.9 715.3,741.4 718.8,741.7 C722.3,742.0 725.2,742.2 726.5,742.3"/>
</g>
<g style="opacity:0.999">
<text x="189.7" y="777.9" font-size="24.4" text-anchor="middle" textLength="57.4" lengthAdjust="spacingAndGlyphs">2000</text>
<text x="298.7" y="777.9" font-size="24.4" text-anchor="middle" textLength="57.4" lengthAdjust="spacingAndGlyphs">3000</text>
<text x="407.7" y="777.9" font-size="24.4" text-anchor="middle" textLength="57.4" lengthAdjust="spacingAndGlyphs">4000</text>
<text x="516.6" y="777.9" font-size="24.4" text-anchor="middle" textLength="57.4" lengthAdjust="spacingAndGlyphs">5000</text>
<text x="625.6" y="777.9" font-size="24.4" text-anchor="middle" textLength="57.4" lengthAdjust="spacingAndGlyphs">6000</text>
<text x="734.6" y="777.9" font-size="24.4" text-anchor="middle" textLength="57.4" lengthAdjust="spacingAndGlyphs">7000</text>
<text x="127.6" y="57.8" font-size="22.4" text-anchor="end" textLength="14.4" lengthAdjust="spacingAndGlyphs">4</text>
<text x="127.6" y="228.2" font-size="24.4" text-anchor="end" textLength="14.4" lengthAdjust="spacingAndGlyphs">3</text>
<text x="127.6" y="403.3" font-size="24.4" text-anchor="end" textLength="14.4" lengthAdjust="spacingAndGlyphs">2</text>
<text x="127.6" y="578.6" font-size="24.4" text-anchor="end" textLength="14.4" lengthAdjust="spacingAndGlyphs">1</text>
<text x="127.6" y="745.2" font-size="24.4" text-anchor="end" textLength="14.4" lengthAdjust="spacingAndGlyphs">0</text>
<text x="328.2" y="94.7" font-size="21.8" text-anchor="start" textLength="90" lengthAdjust="spacingAndGlyphs">Elliptical</text>
<text x="328.2" y="120.8" font-size="21.8" text-anchor="start" textLength="27" lengthAdjust="spacingAndGlyphs">Sc</text>
<text x="328.2" y="146.4" font-size="21.8" text-anchor="start" textLength="102" lengthAdjust="spacingAndGlyphs">Starburst</text>
<text x="604" y="95.7" font-size="21.8" text-anchor="start" textLength="43" lengthAdjust="spacingAndGlyphs">z=2</text>
<text x="660" y="95.7" font-size="21.8" text-anchor="start" textLength="89" lengthAdjust="spacingAndGlyphs">galaxies</text>
<text x="378.6" y="804.4" font-size="21.8" text-anchor="start" textLength="122" lengthAdjust="spacingAndGlyphs">Wavelength</text>
<text x="512.6" y="804.4" font-size="21.8" text-anchor="start" textLength="33" lengthAdjust="spacingAndGlyphs">(Å)</text>
<g transform="translate(94.2,499) rotate(-90)"><text x="0" y="0" font-size="21.8" textLength="11.6" lengthAdjust="spacingAndGlyphs">F</text><text x="11.2" y="11.6" font-size="14" textLength="8.6" lengthAdjust="spacingAndGlyphs">λ</text><text x="31.4" y="0" font-size="21.8" textLength="101.5" lengthAdjust="spacingAndGlyphs">(Arbitrary</text><text x="145" y="0" font-size="21.8" textLength="66" lengthAdjust="spacingAndGlyphs">Units)</text></g>
</g>
</svg>
</body></html>
